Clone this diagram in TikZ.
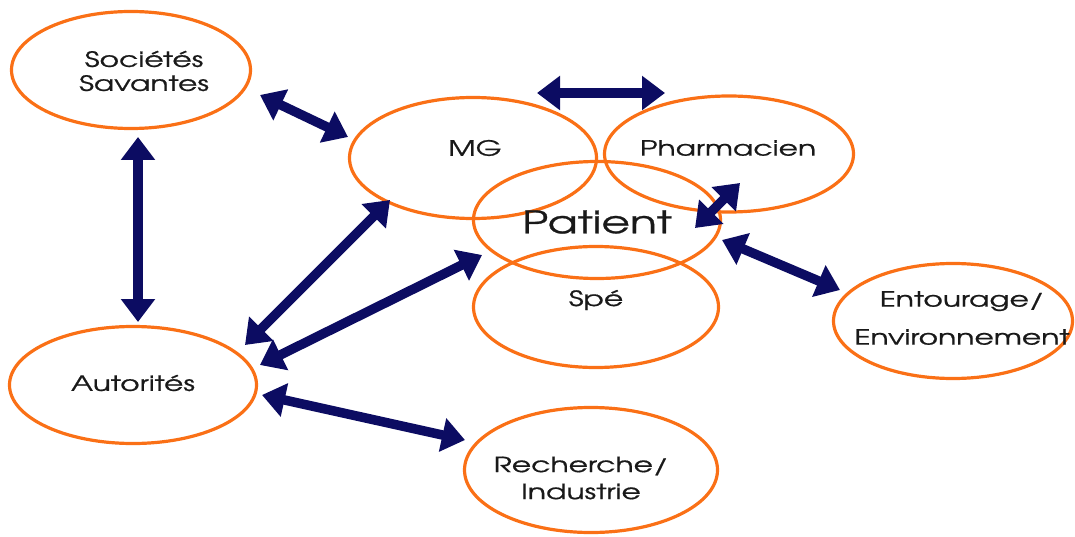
\documentclass[tikz,border=0pt]{standalone}
\usepackage{fontspec}
\setmainfont{texgyreadventor-regular.otf}[FakeStretch=1.42,FakeBold=0.8]
\usetikzlibrary{shapes.geometric,arrows.meta}
\definecolor{ell}{RGB}{250,112,22}
\definecolor{navy}{RGB}{12,12,98}
\begin{document}
\begin{tikzpicture}[x=1pt,y=-1pt,
  oval/.style={ellipse,draw=ell,line width=3.2pt,inner sep=0pt},
  lab/.style={font=\fontsize{21}{24}\selectfont,align=center,text=black!90,inner sep=0pt},
  biarrow/.style={draw=navy,line width=9.5pt,{Triangle[width=33pt,length=23pt]}-{Triangle[width=33pt,length=23pt]}}]
\useasboundingbox (0,0) rectangle (1075,537);
% ellipses
\node[oval,minimum width=239pt,minimum height=117pt] (soc) at (131,70) {};
\node[oval,minimum width=247pt,minimum height=121pt] (mg) at (473,158) {};
\node[oval,minimum width=249pt,minimum height=116pt] (pharm) at (729,154) {};
\node[oval,minimum width=247pt,minimum height=117pt] (patient) at (597,220) {};
\node[oval,minimum width=245pt,minimum height=121pt] (spe) at (596,307) {};
\node[oval,minimum width=239pt,minimum height=115pt] (ent) at (953,321) {};
\node[oval,minimum width=247pt,minimum height=117pt] (aut) at (133,385) {};
\node[oval,minimum width=253pt,minimum height=125pt] (rech) at (591,470) {};
% labels
\node[lab] (tsoc) at ([shift={(13,1)}]soc.center) {Sociétés\\Savantes};
\node[lab] (tmg) at ([shift={(2,-10)}]mg.center) {MG};
\node[lab] (tpharm) at ([shift={(-1,-6)}]pharm.center) {Pharmacien};
\node[lab,font=\fontsize{31}{34}\selectfont] (tpatient) at ([shift={(0,2)}]patient.center) {Patient};
\node[lab] (tspe) at ([shift={(0,-7)}]spe.center) {Spé};
\node[lab] (tent) at ([shift={(9,-3)}]ent.center) {Entourage/\\[14pt]Environnement};
\node[lab] (taut) at ([shift={(0,-2)}]aut.center) {Autorités};
\node[lab] (trech) at ([shift={(-10,8)}]rech.center) {Recherche/\\[3pt]Industrie};
% connectors
\draw[biarrow] ([shift={(129,25)}]soc.center) -- ([shift={(-125,-21)}]mg.center);
\draw[biarrow] ([shift={(64,-65)}]mg.center) -- ([shift={(-64,-61)}]pharm.center);
\draw[biarrow] ([shift={(7,67)}]soc.center) -- ([shift={(5,-63)}]aut.center);
\draw[biarrow] ([shift={(112,-40)}]aut.center) -- ([shift={(-83,42)}]mg.center);
\draw[biarrow] ([shift={(127,-20)}]aut.center) -- ([shift={(-115,35)}]patient.center);
\draw[biarrow] ([shift={(11,29)}]pharm.center) -- ([shift={(98,8)}]patient.center);
\draw[biarrow] ([shift={(125,20)}]patient.center) -- ([shift={(-113,-31)}]ent.center);
\draw[biarrow] ([shift={(129,10)}]aut.center) -- ([shift={(-126,-30)}]rech.center);
\end{tikzpicture}
\end{document}
